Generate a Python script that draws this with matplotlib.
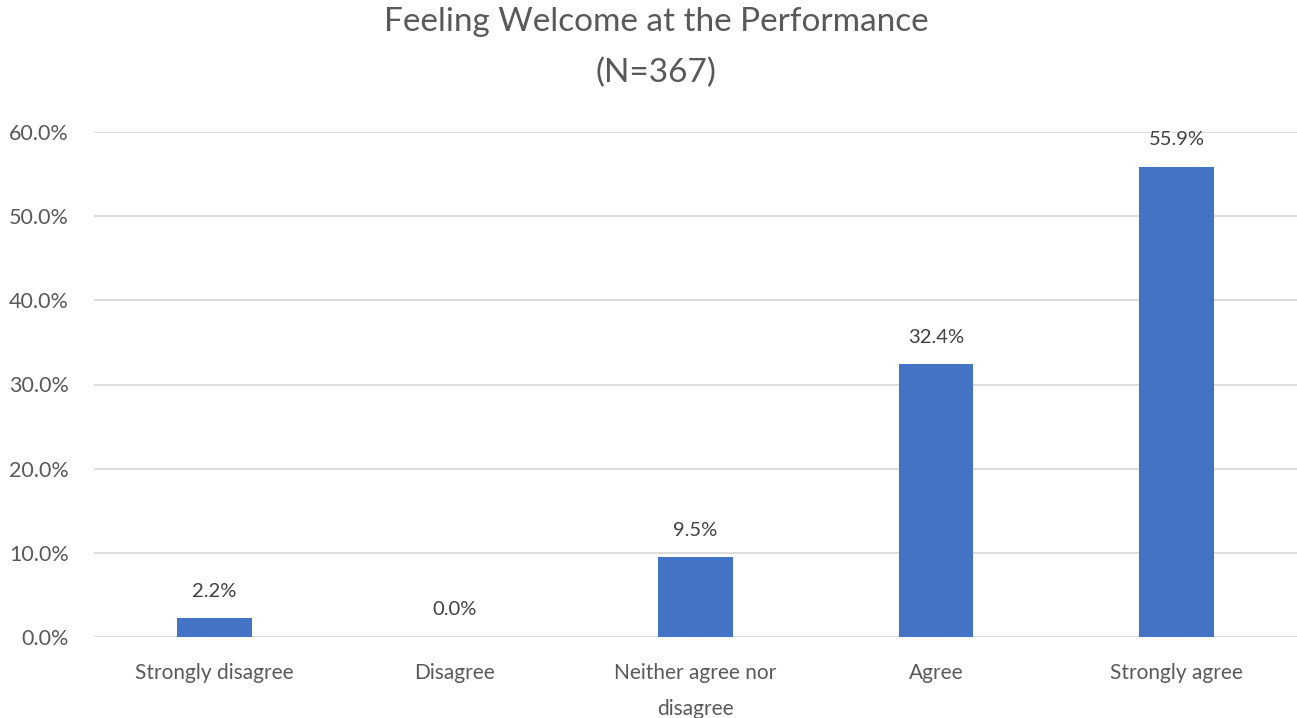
import matplotlib
matplotlib.use("Agg")
import matplotlib.pyplot as plt
import numpy as np
from matplotlib.ticker import FuncFormatter

categories = ["Strongly disagree", "Disagree", "Neither agree nor\ndisagree", "Agree", "Strongly agree"]
values = [2.2, 0.0, 9.5, 32.4, 55.9]
yticks = [0, 10, 20, 30, 40, 50, 60]

txt = "#595959"
plt.rcParams['font.family'] = ['Lato', 'DejaVu Sans']

fig = plt.figure(figsize=(12.97, 7.18), dpi=100)
ax = fig.add_axes([94/1297, 81/718, 1 - 94/1297, (637-132)/718])

x = np.arange(len(categories))
ax.bar(x, values, width=0.31, color="#4472C4", zorder=3)
for xi, v in zip(x, values):
    ax.text(xi, v + 2.2, f"{v:.1f}%", ha="center", va="bottom", fontsize=14.5, color="#404040")

ax.set_xlim(-0.5, 4.5)
ax.set_ylim(0, 60)
ax.set_yticks(yticks)
ax.yaxis.set_major_formatter(FuncFormatter(lambda v, p: f"{v:.1f}%"))
ax.set_xticks(x)
ax.set_xticklabels(categories, fontsize=15, color=txt, linespacing=2.0)
ax.tick_params(axis="y", labelsize=15.5, labelcolor=txt, length=0, pad=18)
ax.tick_params(axis="x", length=0, pad=19)
ax.grid(axis="y", color="#D9D9D9", linewidth=1.3, zorder=0)
for s in ax.spines.values():
    s.set_visible(False)

fig.text(0.506, 0.99, "Feeling Welcome at the Performance\n(N=367)", ha="center", va="top",
         fontsize=24, color=txt, linespacing=1.85)

fig.savefig("out.png", dpi=100)
